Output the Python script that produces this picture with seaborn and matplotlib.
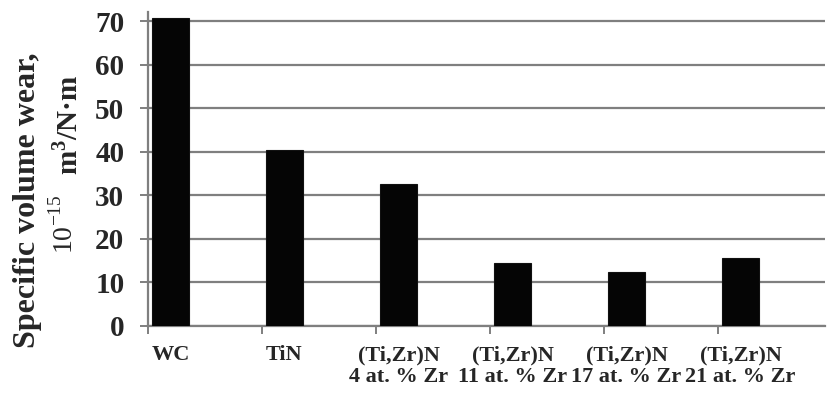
import matplotlib
matplotlib.use("Agg")
import matplotlib.pyplot as plt
import seaborn as sns
import pandas as pd
import numpy as np

# Wear data for the coatings
categories = ["WC", "TiN", "(Ti,Zr)N\n4 at. % Zr", "(Ti,Zr)N\n11 at. % Zr",
              "(Ti,Zr)N\n17 at. % Zr", "(Ti,Zr)N\n21 at. % Zr"]
wear = [70.6, 40.3, 32.7, 14.4, 12.4, 15.6]
yticks = [0, 10, 20, 30, 40, 50, 60, 70]

sns.set_theme(style="white")
plt.rcParams["font.family"] = ["Liberation Serif", "DejaVu Serif"]
plt.rcParams["mathtext.fontset"] = "custom"
plt.rcParams["mathtext.rm"] = "Liberation Serif"
plt.rcParams["mathtext.bf"] = "Liberation Serif:bold"

df = pd.DataFrame({"coating": categories, "wear": wear})

fig = plt.figure(figsize=(8.28, 3.95), dpi=100)
ax = fig.add_axes([148 / 828, 1 - 326 / 395, (825 - 148) / 828, (326 - 12.3) / 395])

sns.barplot(data=df, x="coating", y="wear", order=categories, color="black",
            width=0.325, edgecolor="#111111", linewidth=0.8, ax=ax, zorder=3)
for p in ax.patches:
    p.set_facecolor("#050505")

ax.set_ylim(0, 72)
ax.set_yticks(yticks)
ax.set_xlim(-0.197, 5.74)
ax.yaxis.grid(True, color="#7f7f7f", linewidth=1.6, zorder=0)
ax.set_axisbelow(True)

for side in ("top", "right"):
    ax.spines[side].set_visible(False)
for side in ("left", "bottom"):
    ax.spines[side].set_color("#7f7f7f")
    ax.spines[side].set_linewidth(1.6)
    ax.spines[side].set_zorder(1)

# labels centred on bars, tick marks on category boundaries
ax.set_xticks(np.arange(len(categories)))
ax.set_xticks(np.arange(len(categories)) - 0.197, minor=True)
ax.tick_params(axis="x", which="major", length=0, pad=14)
ax.tick_params(axis="x", which="minor", bottom=True, length=6, width=1.4,
               color="#7f7f7f", direction="out")
ax.tick_params(axis="y", left=True, length=6, width=1.4, color="#7f7f7f",
               direction="out", pad=11)
ax.set_xticklabels(categories, fontsize=16, fontweight="bold", linespacing=1.1)
ax.set_yticklabels([str(v) for v in yticks], fontsize=21, fontweight="bold")
ax.set_xlabel("")
ax.set_ylabel("")

fig.text(28 / 828, 1 - 200 / 395, "Specific volume wear,", rotation=90,
         ha="center", va="center", fontsize=23, fontweight="bold")
fig.text(64 / 828, 1 - 224 / 395, "10$^{-15}$", rotation=90,
         ha="center", va="center", fontsize=20)
fig.text(68 / 828, 1 - 125 / 395, r"m$^{\mathbf{3}}$/N·m", rotation=90,
         ha="center", va="center", fontsize=21, fontweight="bold")

fig.savefig("out.png", dpi=100)
